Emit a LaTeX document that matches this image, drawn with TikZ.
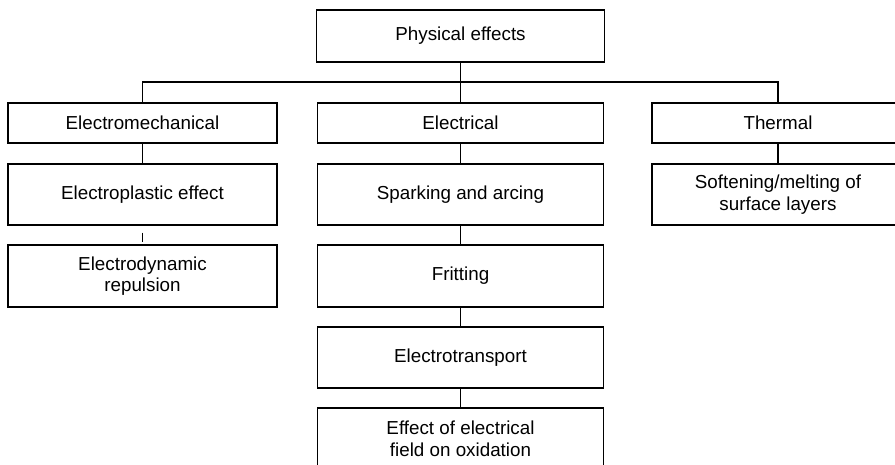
\documentclass[tikz,border=0pt]{standalone}
\usepackage{fontspec}
\setmainfont{Liberation Sans}
\begin{document}
\begin{tikzpicture}[x=1pt,y=-1pt,
  box/.style={draw=black, line width=1.2pt, rectangle, align=center,
    inner sep=0pt, font=\fontsize{18.8}{21.5}\selectfont},
  link/.style={draw=black, line width=1.2pt}]
\useasboundingbox (0,0) rectangle (895,465);
\clip (0,0) rectangle (895,465);

% root
\node[box, minimum width=288pt, minimum height=52pt] (top) at (460.5,36) {Physical effects};

% first level
\node[box, minimum width=269pt, minimum height=40pt] (em) at (142.5,123) {Electromechanical};
\node[box, minimum width=286pt, minimum height=40pt] (el) at (460.5,123) {Electrical};
\node[box, minimum width=252pt, minimum height=40pt] (th) at (778,123) {Thermal};

% electromechanical branch
\node[box, minimum width=269pt, minimum height=61pt] (ep) at (142.5,194.5) {Electroplastic effect};
\node[box, minimum width=269pt, minimum height=62pt] (ed) at (142.5,276) {Electrodynamic\\repulsion};

% electrical branch
\node[box, minimum width=286pt, minimum height=61pt] (sp) at (460.5,194.5) {Sparking and arcing};
\node[box, minimum width=286pt, minimum height=62pt] (fr) at (460.5,276) {Fritting};
\node[box, minimum width=286pt, minimum height=61pt] (et) at (460.5,357.5) {Electrotransport};
\node[box, minimum width=286pt, minimum height=62pt] (ef) at (460.5,439) {Effect of electrical\\field on oxidation};

% thermal branch
\node[box, minimum width=252pt, minimum height=61pt] (so) at (778,194.5) {Softening/melting of\\surface layers};

% bus under the root
\coordinate (busL) at (142.5,82);
\coordinate (busR) at (778,82);
\draw[link] (em.north) -- (busL) -- (busR) -- (th.north);
\draw[link] (top.south) -- (el.north);

% vertical links
\draw[link] (em.south) -- (ep.north);
\draw[link] ([yshift=-7pt]ep.south) -- ([yshift=2pt]ed.north);
\draw[link] (el.south) -- (sp.north);
\draw[link] (sp.south) -- (fr.north);
\draw[link] (fr.south) -- (et.north);
\draw[link] (et.south) -- (ef.north);
\draw[link] (th.south) -- (so.north);
\end{tikzpicture}
\end{document}
